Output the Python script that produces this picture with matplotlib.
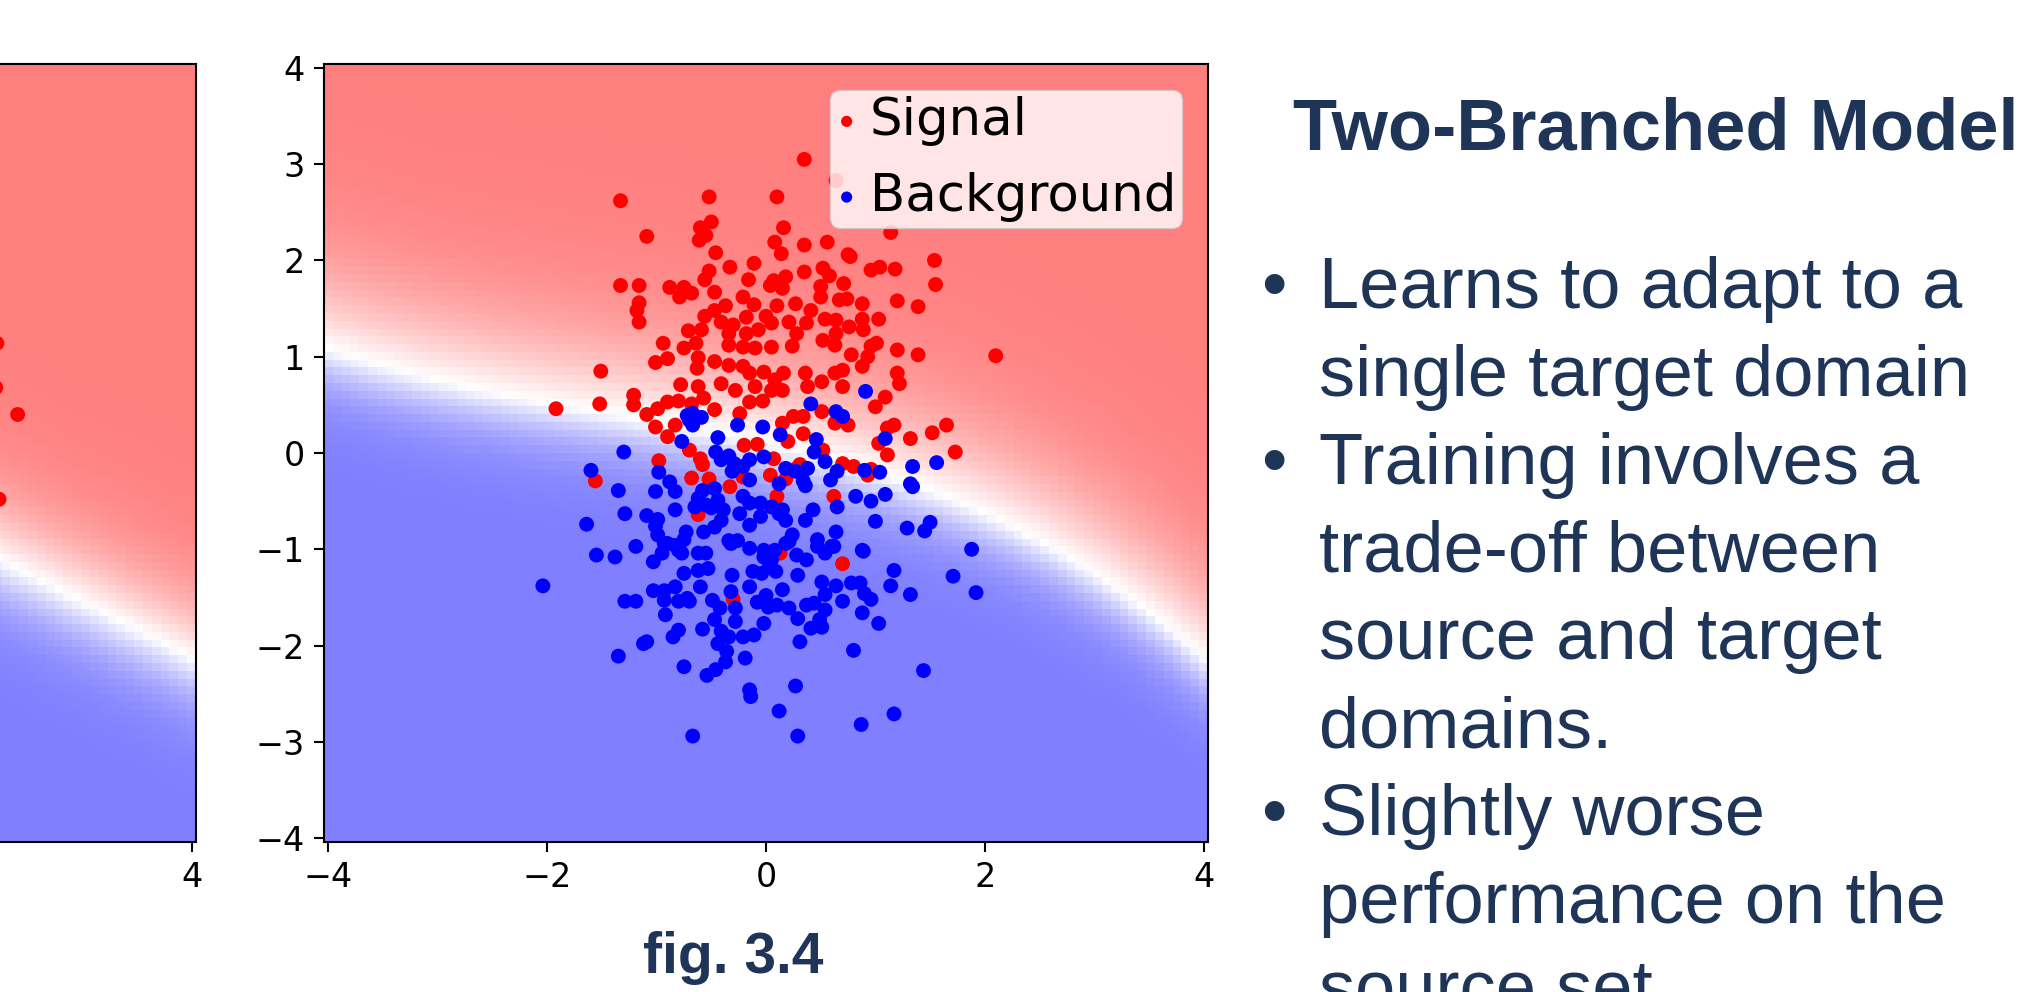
import numpy as np
import matplotlib
matplotlib.use("Agg")
import matplotlib.pyplot as plt

# scatter samples (classifier input space)
signal_x = [0.35, 0.64, -1.33, -0.52, 0.10, -1.09, -0.50, -0.60, -0.55, -0.61, 0.16, 0.08, 0.14, 0.35,
            0.56, 0.75, 0.77, 1.14, 1.54, 1.55, -0.46, -0.33, -0.11, -0.52, -0.56, -0.16, 0.07, 0.18,
            0.15, 0.04, 0.35, 0.52, 0.58, 0.71, 0.96, 1.04, 1.18, -1.33, -1.16, -1.16, -1.18, -1.16,
            -0.88, -0.75, -0.79, -0.68, -0.47, -0.21, -0.11, 0.10, 0.27, 0.50, 0.50, 0.67, 0.74, 0.88,
            1.20, 1.39, 0.41, 1.03, 0.88, 0.89, 0.76, 0.64, 0.54, 0.37, 0.21, 0.00, 0.05, -0.18,
            -0.37, -0.47, -0.56, -0.41, -0.30, -0.59, -0.71, -0.34, -0.18, -0.07, 0.28, 0.52, 0.64,
            -0.94, -0.75, -0.64, -0.34, -0.10, 0.05, 0.24, 1.01, 1.20, 1.39, 2.10, -0.21, 0.63, 0.96,
            -1.01, -0.90, -0.62, -0.63, -1.51, -0.47, -0.34, -0.21, -0.15, -0.02, 0.08, 0.16, 0.15,
            0.05, -0.10, -0.28, -0.41, -0.62, -0.78, -0.57, 0.36, 0.38, 0.51, 0.63, 0.70, 0.70, 0.78,
            0.88, 0.93, 1.20, 1.22, 1.09, 1.00, 1.03, 1.11, 1.17, 1.11, 1.32, 1.52, 1.65, 1.73,
            -1.21, -1.21, -1.52, -1.92, -1.09, -0.99, -0.90, -0.80, -0.68, -0.47, -0.24, -0.15, -0.03,
            -1.01, -0.90, -0.83, -0.70, -0.60, -0.58, -0.98, -1.56, -0.68, -0.52, -0.33, -0.21, -0.20,
            -0.08, 0.07, 0.04, 0.18, 0.15, 0.20, 0.25, 0.34, 0.34, 0.31, 0.52, 0.51, 0.63, 0.75, 0.70,
            0.80, 0.93, 0.96, 0.62, -0.64, -0.62, 0.70, -0.30, 0.13, 0.10, 0.28]
signal_y = [3.05, 2.83, 2.62, 2.66, 2.66, 2.25, 2.40, 2.34, 2.26, 2.21, 2.34, 2.19, 2.07, 2.16,
            2.19, 2.06, 2.04, 2.29, 2.00, 1.75, 2.08, 1.93, 1.97, 1.89, 1.80, 1.80, 1.79, 1.83,
            1.71, 1.74, 1.88, 1.92, 1.84, 1.76, 1.90, 1.93, 1.91, 1.74, 1.74, 1.56, 1.48, 1.36,
            1.72, 1.72, 1.62, 1.66, 1.67, 1.62, 1.54, 1.53, 1.55, 1.73, 1.62, 1.59, 1.60, 1.55,
            1.58, 1.52, 1.48, 1.39, 1.39, 1.28, 1.31, 1.38, 1.39, 1.35, 1.36, 1.42, 1.35, 1.41,
            1.53, 1.48, 1.42, 1.36, 1.33, 1.28, 1.27, 1.24, 1.24, 1.28, 1.24, 1.17, 1.24,
            1.14, 1.09, 1.14, 1.12, 1.09, 1.10, 1.11, 1.14, 1.07, 1.02, 1.01, 1.10, 1.12, 1.11,
            0.94, 0.98, 0.99, 0.88, 0.85, 0.95, 0.91, 0.90, 0.83, 0.84, 0.76, 0.83, 0.65,
            0.65, 0.69, 0.65, 0.72, 0.69, 0.71, 0.57, 0.83, 0.69, 0.74, 0.83, 0.86, 0.69, 1.02,
            0.90, 1.00, 0.83, 0.72, 0.58, 0.48, 0.10, -0.02, 0.29, 0.26, 0.15, 0.21, 0.29, 0.01,
            0.60, 0.50, 0.51, 0.46, 0.40, 0.46, 0.53, 0.54, 0.51, 0.45, 0.41, 0.53, 0.54,
            0.27, 0.17, 0.29, 0.03, -0.06, -0.12, -0.08, -0.29, -0.26, -0.27, -0.35, -0.25, 0.08,
            0.09, -0.06, -0.23, -0.27, 0.31, 0.12, 0.38, 0.38, 0.20, -0.12, 0.03, 0.43, 0.31, 0.29, -0.11,
            -0.14, -0.23, -0.17, -0.45, -0.57, -0.64, -1.15, -1.52, -1.04, -0.45, -0.16]

background_x = [0.91, 0.41, 0.64, 0.70, -0.67, -0.72, -0.59, -0.67, -0.70, -0.26, -0.03, 0.13, 0.46,
                -0.77, -0.44, 0.44, 1.09, -1.30, -1.60, -0.98, -0.46, -0.34, -0.41, -0.29, -0.21,
                -0.15, -0.02, -0.31, -0.15, 0.18, 0.27, 0.38, 0.34, 0.36, 0.54, 0.65, 0.59, 0.90,
                1.04, 1.34, 1.32, 1.34, 1.56, 0.12, -1.35, -1.01, -0.88, -0.83, -0.58, -0.62, -0.65,
                -0.55, -0.47, -0.44, -0.39, -0.50, -0.21, -0.15, -0.05, 0.05, 0.15, 0.18, 0.12,
                -0.24, -0.15, -0.05, -0.83, -1.29, -1.09, -0.99, -1.01, -0.99, -1.64, -1.19, -1.55,
                -1.38, -0.90, -0.80, -0.73, -0.75, -0.57, -0.47, -0.41, -0.34, -0.26, -0.15, -0.02,
                0.05, 0.24, 0.21, 0.36, 0.43, 0.47, 0.64, 0.65, 0.82, 0.96, 1.09, 1.00, 1.29, 1.45,
                1.50, 1.88, 0.88, 0.62, 0.54,
                -1.03, -0.95, -0.83, -0.77, -0.93, -0.62, -0.55, -0.32, -0.02, 0.05, 0.08, 0.18,
                0.28, 0.37, 0.47, 0.60, 0.89, -2.04, -0.75, -0.62, -0.53, -0.31, -0.12, -0.04, 0.09,
                0.03, 0.29, 0.51, 0.64, 0.78, 0.86, 1.17, 1.14, 1.32, 1.71, 1.92, -1.03, -0.93,
                -0.83, -0.93, -0.80, -0.72, -0.70, -1.29, -1.19, -0.60, -0.49, -0.42, -0.47, -0.32,
                -0.28, -0.28, -0.15, -0.08, 0.00, 0.10, 0.02, 0.15, 0.21, 0.29, 0.37, 0.44, 0.54,
                0.54, 0.49, 0.51, 0.41, 0.70, 0.96, 0.90, 0.88, 1.03, -0.92, -0.80, -0.85, -1.09,
                -1.12, -0.58, -0.41, -0.44, -0.34, -0.21, -0.11, -0.02, 0.31, 0.80, -1.35, -0.75,
                -0.54, -0.46, -0.37, -0.36, -0.19, 1.44, -0.15, -0.14, 0.27, 0.12, 1.17, 0.87,
                -0.67, 0.29]
background_y = [0.64, 0.51, 0.43, 0.38, 0.41, 0.39, 0.37, 0.29, 0.34, 0.29, 0.27, 0.19, 0.14,
                0.12, 0.16, 0.01, 0.15, 0.01, -0.18, -0.20, 0.01, -0.03, -0.07, -0.11, -0.14,
                -0.07, -0.04, -0.19, -0.28, -0.16, -0.19, -0.16, -0.29, -0.34, -0.09, -0.19, -0.28, -0.18,
                -0.20, -0.14, -0.32, -0.35, -0.10, -0.32, -0.39, -0.40, -0.30, -0.40, -0.39, -0.47, -0.56,
                -0.54, -0.37, -0.49, -0.59, -0.57, -0.45, -0.52, -0.52, -0.56, -0.59, -0.70, -0.63,
                -0.63, -0.75, -0.66, -0.59, -0.63, -0.65, -0.69, -0.76, -0.85, -0.74, -0.97, -1.06,
                -1.08, -0.94, -1.01, -0.82, -0.90, -0.82, -0.77, -0.70, -0.91, -0.91, -0.99, -1.01,
                -1.04, -0.85, -0.92, -0.70, -0.59, -0.90, -0.82, -0.56, -0.45, -0.50, -0.43, -0.71, -0.78, -0.81,
                -0.72, -1.00, -1.01, -0.97, -1.04,
                -1.13, -1.04, -0.96, -1.04, -0.94, -1.04, -1.04, -0.94, -1.08, -1.11, -1.01, -0.94,
                -1.06, -1.11, -0.97, -0.97, -1.02, -1.38, -1.25, -1.22, -1.20, -1.27, -1.23, -1.25, -1.23,
                -1.15, -1.27, -1.34, -1.38, -1.35, -1.35, -1.22, -1.38, -1.47, -1.28, -1.45, -1.43, -1.43,
                -1.39, -1.53, -1.54, -1.51, -1.54, -1.54, -1.54, -1.39, -1.53, -1.61, -1.73, -1.44,
                -1.61, -1.75, -1.39, -1.55, -1.48, -1.58, -1.60, -1.42, -1.61, -1.72, -1.58, -1.56, -1.47,
                -1.63, -1.73, -1.81, -1.82, -1.54, -1.52, -1.46, -1.66, -1.77, -1.68, -1.84, -1.91, -1.96,
                -1.98, -1.83, -1.85, -1.98, -1.91, -1.91, -1.89, -1.77, -1.96, -2.05, -2.11, -2.22,
                -2.31, -2.25, -2.17, -2.06, -2.13, -2.26, -2.46, -2.53, -2.42, -2.68, -2.71, -2.82,
                -2.94, -2.94]

# neighbouring panel: only its right edge is on the slide
left_signal_x = [2.22, 2.21, 2.41, 2.24]
left_signal_y = [1.14, 0.68, 0.40, -0.48]

# decision boundary (p = 0.5) read along x
boundary_x = [-4.0, -2.4, 0.0, 1.65, 2.68, 4.0]
boundary_y = [1.08, 0.62, 0.1, -0.47, -1.0, -2.12]
left_boundary_x = [2.2, 3.0, 4.0]
left_boundary_y = [-1.08, -1.54, -2.12]

title = "Two-Branched Model"
bullet_lines = [("Learns to adapt to a", True), ("single target domain", False),
                ("Training involves a", True), ("trade-off between", False),
                ("source and target", False), ("domains.", False),
                ("Slightly worse", True), ("performance on the", False),
                ("source set", False)]
caption = "fig. 3.4"

NAVY = "#1F3557"
W, H = 2028, 992


def decision_surface(bx, by, deg, k_up=2.0, k_low=4.0):
    grid = np.linspace(-4, 4, 100)
    xx, yy = np.meshgrid(grid, grid)
    coef = np.polyfit(bx, by, deg)
    d = yy - np.polyval(coef, xx)
    z = np.where(d > 0, k_up * d, k_low * d)
    return xx, yy, 1.0 / (1.0 + np.exp(-z))


def style_axes(ax):
    ax.set_xticks([-4, -2, 0, 2, 4])
    ax.set_yticks(range(-4, 5))
    ax.tick_params(labelsize=24, length=7, width=1.5, pad=7)
    for s in ax.spines.values():
        s.set_linewidth(1.5)


fig = plt.figure(figsize=(W / 100, H / 100), dpi=100)

ax_w, ax_h = 884 / W, 778 / H
ax_b = 1 - 842 / H

# partial panel on the left (its y labels sit off the slide)
ax0 = fig.add_axes([(196 - 884) / W, ax_b, ax_w, ax_h])
xx, yy, p = decision_surface(left_boundary_x, left_boundary_y, 2, 2.5, 3.5)
ax0.pcolormesh(xx, yy, p, cmap="bwr", vmin=0, vmax=1, alpha=0.5, shading="auto")
ax0.scatter(left_signal_x, left_signal_y, c="red", s=115, edgecolors="none")
style_axes(ax0)
ax0.set_xticks([4])
ax0.set_yticks([])

# main panel
ax = fig.add_axes([324 / W, ax_b, ax_w, ax_h])
xx, yy, p = decision_surface(boundary_x, boundary_y, 3)
ax.pcolormesh(xx, yy, p, cmap="bwr", vmin=0, vmax=1, alpha=0.5, shading="auto")
ax.scatter(signal_x, signal_y, c="red", s=115, edgecolors="none", label="Signal")
ax.scatter(background_x, background_y, c="blue", s=115, edgecolors="none", label="Background")
style_axes(ax)
ax.legend(loc="upper right", fontsize=37, markerscale=0.75, handlelength=0.4,
          handletextpad=0.25, labelspacing=0.5, borderpad=0.12, borderaxespad=0.5)

# slide text
fig.text(733 / W, 1 - 973 / H, caption, ha="center", va="baseline", fontsize=41,
         fontweight="bold", family="Liberation Sans", color=NAVY)
fig.text(1293 / W, 1 - 149 / H, title, ha="left", va="baseline", fontsize=52,
         fontweight="bold", family="Liberation Sans", color=NAVY)
for i, (line, bullet) in enumerate(bullet_lines):
    yb = 1 - (308 + i * 87.8) / H
    fig.text(1319 / W, yb, line, ha="left", va="baseline", fontsize=52,
             family="Liberation Sans", color=NAVY)
    if bullet:
        fig.text(1274 / W, yb, "\u2022", ha="center", va="baseline", fontsize=52,
                 family="Liberation Sans", color=NAVY)

fig.savefig("out.png", dpi=100)
